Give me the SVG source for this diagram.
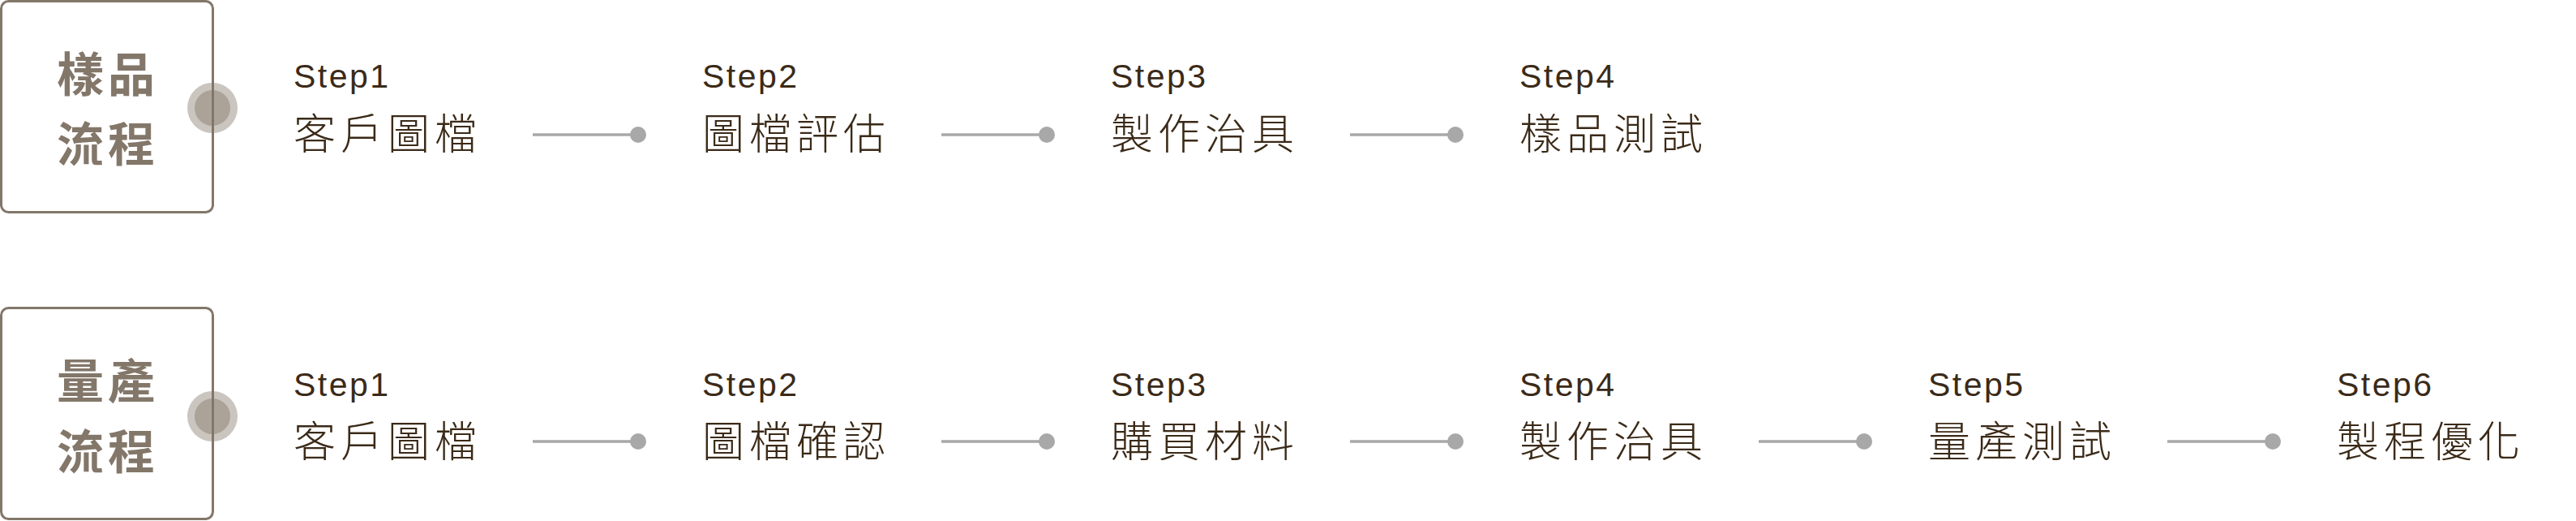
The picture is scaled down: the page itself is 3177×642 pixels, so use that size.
<svg xmlns="http://www.w3.org/2000/svg" width="3177" height="642" viewBox="0 0 3177 642">
<style>
.box{fill:none;stroke:#83776a;stroke-width:3}
.halo{fill:#cbc5bf}
.core{fill:#aba298}
.title{font-family:"Noto Sans CJK TC","Noto Sans CJK SC",sans-serif;font-weight:700;font-size:58px;fill:#83776a;letter-spacing:5px}
.step{font-family:"Liberation Sans","DejaVu Sans",sans-serif;font-size:41px;fill:#3b2a18;letter-spacing:2.5px}
.name{font-family:"Noto Sans CJK TC","Noto Sans CJK SC",sans-serif;font-weight:300;font-size:52px;fill:#3b2a18;letter-spacing:6px}
.conn line{stroke:#a8a8a8;stroke-width:3.5}
.conn circle{fill:#a8a8a8}
</style>
<rect width="3177" height="642" fill="#ffffff"/>

<g id="sample-header">
<circle class="halo" cx="262" cy="133" r="31"/>
<circle class="core" cx="262" cy="133" r="22"/>
<rect class="box" x="1.5" y="1.5" width="261" height="260" rx="9"/>
<text class="title" x="70" y="113">樣品</text>
<text class="title" x="70" y="199">流程</text>
</g>

<g id="mass-header">
<circle class="halo" cx="262" cy="513" r="31"/>
<circle class="core" cx="262" cy="513" r="22"/>
<rect class="box" x="1.5" y="379.5" width="261" height="260" rx="9"/>
<text class="title" x="70" y="491">量產</text>
<text class="title" x="70" y="578">流程</text>
</g>

<g id="s1"><text class="step" x="362" y="108">Step1</text><text class="name" x="362" y="184">客戶圖檔</text></g>
<g id="s2"><text class="step" x="866" y="108">Step2</text><text class="name" x="866" y="184">圖檔評估</text></g>
<g id="s3"><text class="step" x="1370" y="108">Step3</text><text class="name" x="1370" y="184">製作治具</text></g>
<g id="s4"><text class="step" x="1874" y="108">Step4</text><text class="name" x="1874" y="184">樣品測試</text></g>

<g id="m1"><text class="step" x="362" y="488">Step1</text><text class="name" x="362" y="563">客戶圖檔</text></g>
<g id="m2"><text class="step" x="866" y="488">Step2</text><text class="name" x="866" y="563">圖檔確認</text></g>
<g id="m3"><text class="step" x="1370" y="488">Step3</text><text class="name" x="1370" y="563">購買材料</text></g>
<g id="m4"><text class="step" x="1874" y="488">Step4</text><text class="name" x="1874" y="563">製作治具</text></g>
<g id="m5"><text class="step" x="2378" y="488">Step5</text><text class="name" x="2378" y="563">量產測試</text></g>
<g id="m6"><text class="step" x="2882" y="488">Step6</text><text class="name" x="2882" y="563">製程優化</text></g>

<g id="connectors" class="conn">
<line x1="657" y1="166" x2="787" y2="166"/><circle cx="787" cy="166" r="10"/>
<line x1="1161" y1="166" x2="1291" y2="166"/><circle cx="1291" cy="166" r="10"/>
<line x1="1665" y1="166" x2="1795" y2="166"/><circle cx="1795" cy="166" r="10"/>
<line x1="657" y1="544" x2="787" y2="544"/><circle cx="787" cy="544" r="10"/>
<line x1="1161" y1="544" x2="1291" y2="544"/><circle cx="1291" cy="544" r="10"/>
<line x1="1665" y1="544" x2="1795" y2="544"/><circle cx="1795" cy="544" r="10"/>
<line x1="2169" y1="544" x2="2299" y2="544"/><circle cx="2299" cy="544" r="10"/>
<line x1="2673" y1="544" x2="2803" y2="544"/><circle cx="2803" cy="544" r="10"/>
</g>
</svg>
